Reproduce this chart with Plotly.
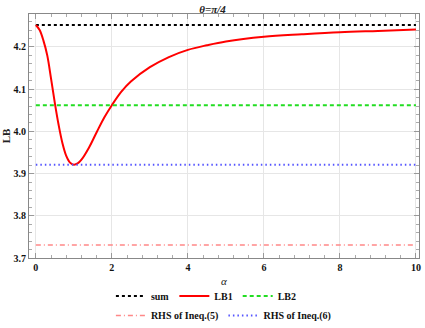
import plotly.graph_objects as go

alpha = [0, 0.1, 0.2, 0.3, 0.4, 0.5, 0.6, 0.7, 0.8, 0.9, 1.0, 1.1, 1.2, 1.4, 1.6, 1.8,
         2.0, 2.25, 2.5, 3.0, 3.5, 4.0, 4.5, 5.0, 6.0, 7.0, 8.0, 9.0, 10.0]
lb1 = [4.252, 4.240, 4.215, 4.180, 4.125, 4.067, 4.015, 3.972, 3.942, 3.926, 3.921,
       3.924, 3.933, 3.962, 3.998, 4.033, 4.062, 4.094, 4.118, 4.152, 4.176, 4.193,
       4.204, 4.213, 4.224, 4.230, 4.235, 4.238, 4.241]
x_const = [0, 10]
x_ticks = [0, 2, 4, 6, 8, 10]
sum_val = 4.252
lb2_val = 4.062
rhs5_val = 3.731
rhs6_val = 3.921

serif = "Liberation Serif"
fig = go.Figure()
fig.add_trace(go.Scatter(x=x_const, y=[sum_val]*2, mode="lines", name="<b>sum</b>",
                         line=dict(color="black", dash="3px,3px", width=2), legend="legend"))
fig.add_trace(go.Scatter(x=alpha, y=lb1, mode="lines", name="<b>LB1</b>", line_shape="spline",
                         line=dict(color="#ff0000", width=2), legend="legend"))
fig.add_trace(go.Scatter(x=x_const, y=[lb2_val]*2, mode="lines", name="<b>LB2</b>",
                         line=dict(color="#22dd22", dash="4px,3px", width=2), legend="legend"))
fig.add_trace(go.Scatter(x=x_const, y=[rhs5_val]*2, mode="lines", name="<b>RHS of Ineq.(5)</b>",
                         line=dict(color="#ff8888", dash="5px,3px,1px,3px", width=1.5), legend="legend2"))
fig.add_trace(go.Scatter(x=x_const, y=[rhs6_val]*2, mode="lines", name="<b>RHS of Ineq.(6)</b>",
                         line=dict(color="#5555ff", dash="1.5px,3px", width=2), legend="legend2"))

axis_common = dict(showline=True, linecolor="#888", linewidth=1, mirror="allticks",
                   ticks="inside", ticklen=5, tickcolor="#999",
                   showgrid=True, gridcolor="#e6e6e6", gridwidth=1, zeroline=False,
                   ticklabeloverflow="allow", automargin=False,
                   tickfont=dict(family=serif, size=10, color="#111", weight="bold"))
fig.update_xaxes(range=[-0.18, 10.08], tickmode="array", tickvals=x_ticks,
                 ticktext=[str(v) for v in x_ticks],
                 minor=dict(dtick=0.4, tick0=0, ticks="inside", ticklen=3, tickcolor="#aaa", showgrid=False),
                 **axis_common)
fig.update_yaxes(range=[3.7, 4.278], dtick=0.1, tick0=3.7, tickformat=".1f",
                 minor=dict(dtick=0.02, ticks="inside", ticklen=3, tickcolor="#aaa", showgrid=False),
                 title=dict(text="<b>LB</b>", font=dict(family=serif, size=11, color="#222"), standoff=6),
                 **axis_common)

fig.add_annotation(text="<i>α</i>", xref="paper", yref="paper", x=0.5, y=-0.094,
                   xanchor="center", yanchor="middle", showarrow=False,
                   font=dict(family=serif, size=11, color="#222"))

fig.update_layout(
    width=425, height=328,
    margin=dict(l=29, r=6, t=14, b=70, autoexpand=False),
    paper_bgcolor="white", plot_bgcolor="white",
    title=dict(text="<b><i>θ=π/4</i></b>", x=0.5, xanchor="center", y=0.985, yanchor="top",
               font=dict(family=serif, size=11, color="#222")),
    showlegend=True,
    legend=dict(orientation="h", x=0.21, xanchor="left", y=-0.096, yanchor="top",
                font=dict(family=serif, size=10, color="#111"), bgcolor="rgba(0,0,0,0)",
                itemwidth=30, tracegroupgap=0),
    legend2=dict(orientation="h", x=0.21, xanchor="left", y=-0.176, yanchor="top",
                 font=dict(family=serif, size=10, color="#111"), bgcolor="rgba(0,0,0,0)",
                 itemwidth=30),
)
fig.write_html("out.html", config={"displayModeBar": False},
               post_script="document.body.style.margin='0';")
